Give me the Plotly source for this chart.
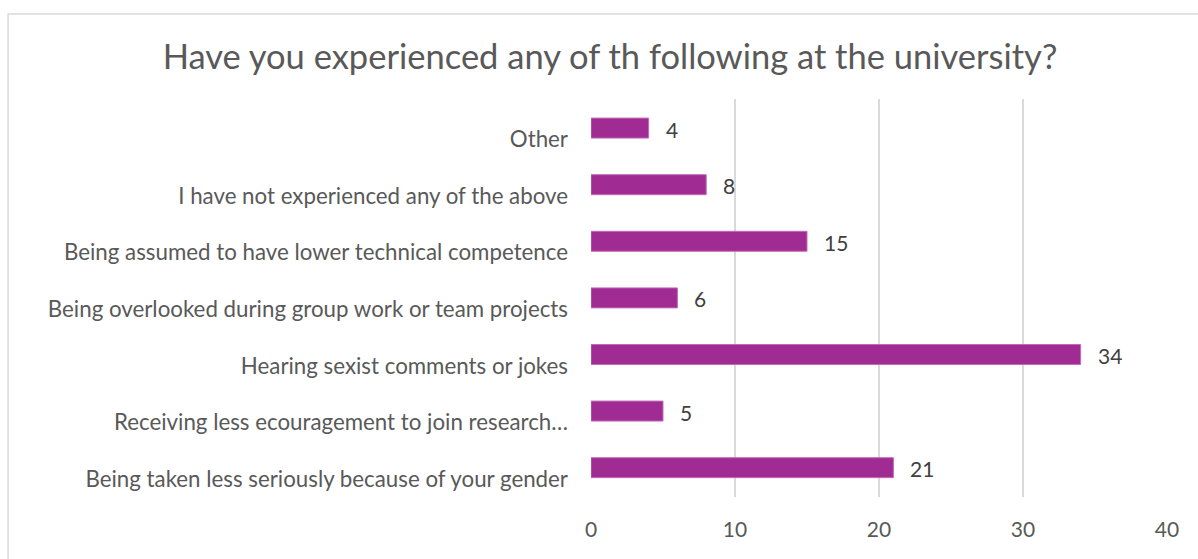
import plotly.graph_objects as go

# Survey responses, listed bottom-to-top as they appear on the axis
categories = [
    "Being taken less seriously because of your gender",
    "Receiving less ecouragement to join research…",
    "Hearing sexist comments or jokes",
    "Being overlooked during group work or team projects",
    "Being assumed to have lower technical competence",
    "I have not experienced any of the above",
    "Other",
]
counts = [21, 5, 34, 6, 15, 8, 4]
x_ticks = [0, 10, 20, 30, 40]

title_text = "Have you experienced any of th following at the university?"
FONT = "Lato, Open Sans, sans-serif"
BAR = "#A02B93"
GRID = "#D9D9D9"

# bars sit slightly above their category label, as in the source workbook
BAR_WIDTH = 0.353
BAR_LIFT = 0.2          # in category units
CAT_PX = 56.6           # pixel spacing between categories

fig = go.Figure()
fig.add_trace(go.Bar(
    x=counts,
    y=categories,
    orientation="h",
    width=BAR_WIDTH,
    offset=BAR_LIFT - BAR_WIDTH / 2,
    marker=dict(color=BAR, line=dict(color="#C26BB8", width=1)),
    hoverinfo="x+y",
))

# value labels to the right of each bar
for c, v in zip(categories, counts):
    fig.add_annotation(
        x=v, y=c, xref="x", yref="y",
        text=str(v), showarrow=False,
        xanchor="left", yanchor="middle",
        xshift=15, yshift=BAR_LIFT * CAT_PX - 1,
        font=dict(family=FONT, size=21, color="#404040"),
    )

# outer chart frame
fig.add_shape(
    type="rect", xref="paper", yref="paper",
    x0=-1.012, x1=1.06, y0=-0.3, y1=1.2136,
    line=dict(color=GRID, width=1.5),
    fillcolor="rgba(0,0,0,0)", layer="below",
)

fig.update_layout(
    width=1198, height=559,
    margin=dict(l=591, r=31, t=99, b=62),
    paper_bgcolor="white", plot_bgcolor="white",
    showlegend=False,
    title=dict(
        text=title_text, x=610 / 1198, xref="container", xanchor="center",
        y=1 - 57 / 559, yref="container", yanchor="middle",
        font=dict(family=FONT, size=34.5, color="#595959"),
    ),
    xaxis=dict(
        range=[0, 40], tickvals=x_ticks, showgrid=True, gridcolor=GRID,
        gridwidth=1.5, zeroline=False, showline=False,
        tickfont=dict(family=FONT, size=21, color="#595959"),
        ticklabelstandoff=18, fixedrange=True,
    ),
    yaxis=dict(
        categoryorder="array", categoryarray=categories,
        range=[-0.318, 6.714],
        showgrid=False, zeroline=False, showline=False,
        tickfont=dict(family=FONT, size=22.3, color="#595959"),
        ticklabelstandoff=22, fixedrange=True,
    ),
)

fig.write_html("out.html")
